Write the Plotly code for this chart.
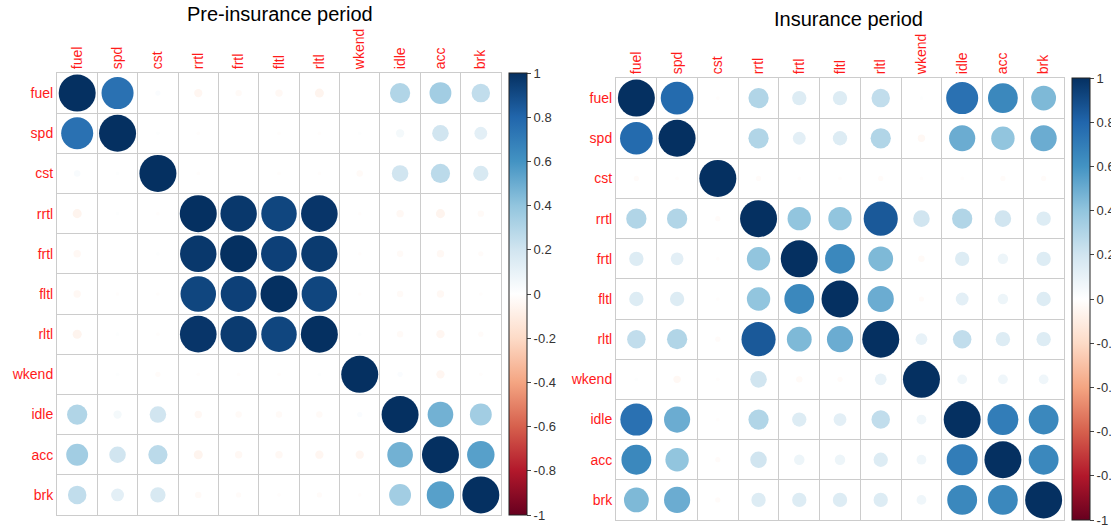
import plotly.graph_objects as go

variables = ["fuel", "spd", "cst", "rrtl", "frtl", "fltl", "rltl", "wkend", "idle", "acc", "brk"]

pre_insurance = [
    [1.00, 0.75, 0.02, -0.05, -0.03, -0.04, -0.06, 0.00, 0.30, 0.35, 0.25],
    [0.75, 1.00, 0.01, -0.01, 0.00, -0.01, -0.01, 0.01, 0.05, 0.20, 0.12],
    [0.03, 0.01, 1.00, -0.01, 0.00, -0.01, -0.01, -0.03, 0.20, 0.27, 0.17],
    [-0.06, 0.01, -0.01, 1.00, 0.97, 0.92, 0.98, -0.01, -0.04, -0.06, -0.03],
    [-0.04, 0.00, 0.01, 0.97, 1.00, 0.94, 0.96, -0.01, -0.03, -0.04, -0.02],
    [-0.04, -0.01, -0.01, 0.92, 0.94, 1.00, 0.92, -0.01, -0.03, -0.04, -0.01],
    [-0.06, 0.01, -0.01, 0.98, 0.96, 0.92, 1.00, 0.01, -0.03, -0.05, -0.02],
    [0.00, 0.01, -0.02, -0.01, -0.01, -0.01, 0.01, 1.00, 0.02, -0.05, -0.01],
    [0.30, 0.05, 0.20, -0.04, -0.03, -0.03, -0.03, 0.02, 1.00, 0.48, 0.35],
    [0.35, 0.20, 0.27, -0.06, -0.04, -0.04, -0.05, -0.05, 0.48, 1.00, 0.55],
    [0.25, 0.12, 0.17, -0.03, -0.02, -0.01, -0.02, -0.01, 0.35, 0.55, 1.00],
]

insurance = [
    [1.00, 0.78, -0.01, 0.30, 0.15, 0.15, 0.25, 0.01, 0.75, 0.65, 0.45],
    [0.78, 1.00, 0.00, 0.30, 0.12, 0.15, 0.30, -0.04, 0.50, 0.40, 0.50],
    [-0.02, -0.01, 1.00, -0.02, -0.01, -0.01, -0.02, -0.01, -0.01, -0.02, -0.02],
    [0.30, 0.30, -0.02, 1.00, 0.40, 0.40, 0.85, 0.20, 0.30, 0.20, 0.15],
    [0.15, 0.12, -0.01, 0.40, 1.00, 0.65, 0.45, -0.03, 0.15, 0.08, 0.15],
    [0.15, 0.15, -0.01, 0.40, 0.65, 1.00, 0.50, -0.02, 0.12, 0.08, 0.15],
    [0.25, 0.30, -0.02, 0.85, 0.45, 0.50, 1.00, 0.10, 0.25, 0.15, 0.15],
    [0.01, -0.04, -0.01, 0.20, -0.03, -0.02, 0.10, 1.00, 0.07, 0.07, 0.07],
    [0.75, 0.50, -0.01, 0.30, 0.15, 0.12, 0.25, 0.07, 1.00, 0.70, 0.65],
    [0.65, 0.40, -0.02, 0.20, 0.08, 0.08, 0.15, 0.07, 0.70, 1.00, 0.65],
    [0.45, 0.50, -0.02, 0.15, 0.15, 0.15, 0.15, 0.07, 0.65, 0.65, 1.00],
]

titles = ["Pre-insurance period", "Insurance period"]
colorbar_ticks = [-1, -0.8, -0.6, -0.4, -0.2, 0, 0.2, 0.4, 0.6, 0.8, 1]

palette = ["#67001F", "#B2182B", "#D6604D", "#F4A582", "#FDDBC7", "#FFFFFF",
           "#D1E5F0", "#92C5DE", "#4393C3", "#2166AC", "#053061"]
colorscale = [[i / (len(palette) - 1), c] for i, c in enumerate(palette)]

W, H = 1111, 529
# panel geometry in pixels: (left, right, top, bottom)
panels = [(57, 501, 73, 515), (616, 1064, 78, 520)]
title_pos = [(280, 14), (848, 19)]
MAXD = 37

fig = go.Figure()
n = len(variables)
for k, (mat, (l, r, t, b)) in enumerate(zip([pre_insurance, insurance], panels)):
    xs, ys, cs, ss = [], [], [], []
    for i in range(n):
        for j in range(n):
            v = mat[i][j]
            xs.append(j)
            ys.append(i)
            cs.append(v)
            ss.append(MAXD * abs(v) ** 0.5)
    ax = "" if k == 0 else str(k + 1)
    fig.add_trace(go.Scatter(
        x=xs, y=ys, mode="markers",
        xaxis="x" + ax, yaxis="y" + ax,
        marker=dict(size=ss, color=cs, colorscale=colorscale, cmin=-1, cmax=1,
                    line=dict(width=0), opacity=1,
                    showscale=True,
                    colorbar=dict(
                        x=(r + 8) / W, xanchor="left",
                        y=1 - t / H, yanchor="top",
                        len=(b - t) / H, lenmode="fraction",
                        thickness=18, thicknessmode="pixels",
                        outlinecolor="#222", outlinewidth=1,
                        tickvals=colorbar_ticks,
                        ticktext=[("%g" % v) for v in colorbar_ticks],
                        ticks="outside", ticklen=4, tickcolor="#444",
                        tickfont=dict(family="Liberation Sans, Arial", size=13, color="#333"),
                        xpad=0, ypad=0,
                    )),
        hoverinfo="skip", showlegend=False,
    ))
    axis_common = dict(
        range=[-0.5, n - 0.5], showgrid=False, zeroline=False,
        showline=True, linecolor="#cccccc", linewidth=1, mirror=True,
        tickvals=list(range(n)), ticktext=variables, ticks="",
        tickfont=dict(family="Liberation Sans, Arial", size=14, color="#ff1a1a"),
        minor=dict(tick0=-0.5, dtick=1, showgrid=True, gridcolor="#cccccc", gridwidth=1, ticks=""),
        fixedrange=True, automargin=False,
    )
    fig.update_layout(**{
        "xaxis" + ax: dict(axis_common, domain=[l / W, r / W], side="top", tickangle=-90,
                           anchor="y" + ax),
        "yaxis" + ax: dict(axis_common, domain=[1 - b / H, 1 - t / H],
                           range=[n - 0.5, -0.5], anchor="x" + ax),
    })
    fig.add_annotation(text=titles[k], x=title_pos[k][0] / W, y=1 - title_pos[k][1] / H,
                       xref="paper", yref="paper", showarrow=False,
                       font=dict(family="Liberation Sans, Arial", size=20, color="black"),
                       xanchor="center", yanchor="middle")

fig.update_layout(width=W, height=H, margin=dict(l=0, r=0, t=0, b=0, autoexpand=False),
                  paper_bgcolor="white", plot_bgcolor="white")
fig.write_html("out.html", config={"displayModeBar": False},
               post_script="document.body.style.margin='0';document.body.style.overflow='hidden';")
